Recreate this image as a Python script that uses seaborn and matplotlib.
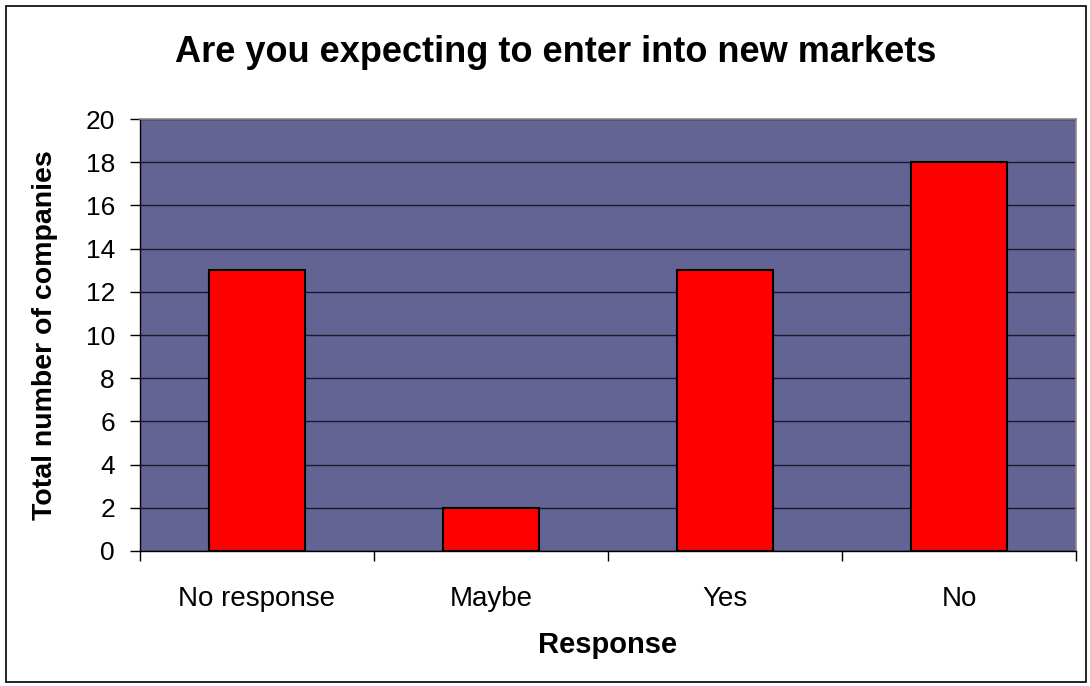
import matplotlib
matplotlib.use("Agg")
import matplotlib.pyplot as plt
import matplotlib.patches as mpatches
from matplotlib.ticker import FixedLocator
import pandas as pd
import seaborn as sns

# Data
responses = ["No response", "Maybe", "Yes", "No"]
counts = [13, 2, 13, 18]
y_ticks = [0, 2, 4, 6, 8, 10, 12, 14, 16, 18, 20]

df = pd.DataFrame({"Response": responses, "Companies": counts})

sns.set_style("white")
plt.rcParams["font.family"] = ["Liberation Sans", "DejaVu Sans"]
plt.rcParams["text.color"] = "black"
plt.rcParams["axes.labelcolor"] = "black"
plt.rcParams["xtick.color"] = "black"
plt.rcParams["ytick.color"] = "black"

fig = plt.figure(figsize=(10.9, 6.86), dpi=100)
ax = fig.add_axes([0.1284, 0.1968, 0.8588, 0.6297])
ax.set_facecolor("#636394")

sns.barplot(data=df, x="Response", y="Companies", color="#ff0000", saturation=1,
            width=0.41, edgecolor="black", linewidth=1.5, ax=ax, zorder=3)

ax.set_ylim(0, 20)
ax.set_xlim(-0.5, len(responses) - 0.5)
ax.set_yticks(y_ticks)
ax.yaxis.grid(True, color="#1a1a2e", linewidth=1.0, zorder=0)
ax.set_axisbelow(True)

# tick marks at category boundaries, labels at centres
ax.xaxis.set_minor_locator(FixedLocator([i - 0.5 for i in range(len(responses) + 1)]))
ax.tick_params(axis="x", which="major", length=0, pad=25, labelsize=20)
ax.tick_params(axis="x", which="minor", length=7, width=1, color="black", direction="out", bottom=True)
ax.tick_params(axis="y", length=7, width=1, color="black", direction="out", left=True,
               labelsize=19, pad=11)

for s in ["left", "bottom"]:
    ax.spines[s].set_color("black")
    ax.spines[s].set_linewidth(1)
for s in ["top", "right"]:
    ax.spines[s].set_color("#8a8a8a")
    ax.spines[s].set_linewidth(1.2)

ax.set_xlabel("Response", fontsize=21, fontweight="bold", labelpad=14)
ax.set_ylabel("Total number of companies", fontsize=20.5, fontweight="bold", labelpad=20)
fig.text(0.5101, 0.924, "Are you expecting to enter into new markets",
         ha="center", va="center", fontsize=26, fontweight="bold")

# outer chart border
fig.patches.append(mpatches.Rectangle((0.0055, 0.006), 0.9905, 0.985, transform=fig.transFigure,
                                      fill=False, edgecolor="black", linewidth=1.2))

fig.savefig("out.png", dpi=100)
